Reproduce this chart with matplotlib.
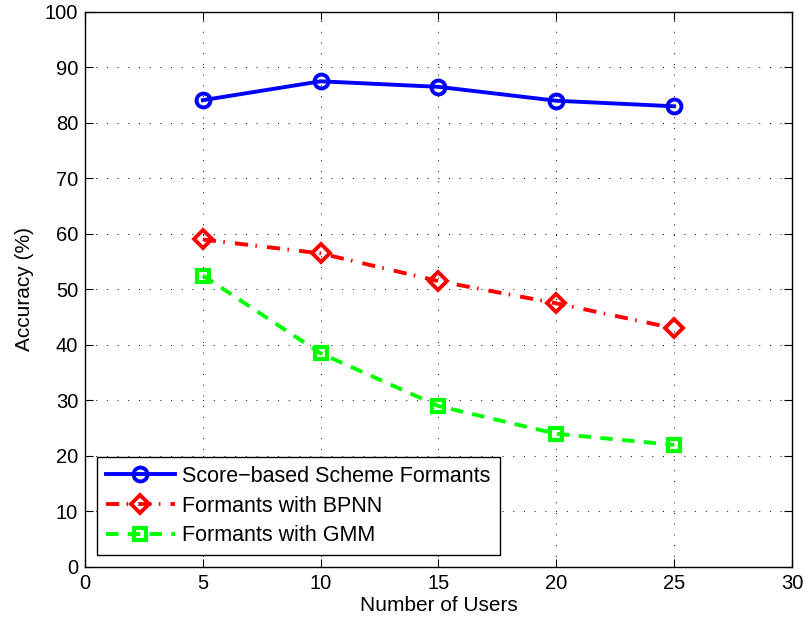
import matplotlib
matplotlib.use("Agg")
import matplotlib.pyplot as plt

users = [5, 10, 15, 20, 25]
score_based = [84.1, 87.5, 86.5, 84.0, 83.0]
bpnn = [59.0, 56.5, 51.5, 47.5, 43.0]
gmm = [52.5, 38.5, 29.0, 24.0, 22.0]

xticks = [0, 5, 10, 15, 20, 25, 30]
yticks = [0, 10, 20, 30, 40, 50, 60, 70, 80, 90, 100]

plt.rcParams['font.family'] = ['Liberation Sans', 'DejaVu Sans']

fig = plt.figure(figsize=(8.06, 6.27), dpi=100)
ax = fig.add_axes([0.1055, 0.0957, 0.877, 0.8853])

lw = 2.8
ax.plot(users, score_based, color='#0000ff', lw=lw, marker='o', ms=10,
        mfc='none', mew=2.8, label='Score\u2212based Scheme Formants')
ax.plot(users, bpnn, color='#ff0000', lw=lw, marker='D', ms=9,
        mfc='none', mew=2.8, dashes=(3.4, 1.9, 0.4, 2.6),
        label='Formants with BPNN')
ax.plot(users, gmm, color='#00ff00', lw=lw, marker='s', ms=8.5,
        mfc='none', mew=3.0, dashes=(3.2, 2.4),
        label='Formants with GMM')

ax.set_xlim(0, 30)
ax.set_ylim(0, 100)
ax.set_xticks(xticks)
ax.set_yticks(yticks)
ax.tick_params(direction='in', top=True, right=True, labelsize=14.5,
               length=6, pad=5)
ax.grid(True, color='black', linestyle=(0, (1, 10)), linewidth=0.7)
for s in ax.spines.values():
    s.set_linewidth(1.0)

ax.set_xlabel('Number of Users', fontsize=15, labelpad=2)
ax.set_ylabel('Accuracy (%)', fontsize=15, labelpad=8)

leg = ax.legend(loc='lower left', fontsize=15.5, fancybox=False,
                edgecolor='black', framealpha=1, handlelength=3.2,
                handletextpad=0.35, borderaxespad=0.55, borderpad=0.42,
                labelspacing=0.4)
leg.get_frame().set_linewidth(1.0)

fig.savefig('out.png', dpi=100)
